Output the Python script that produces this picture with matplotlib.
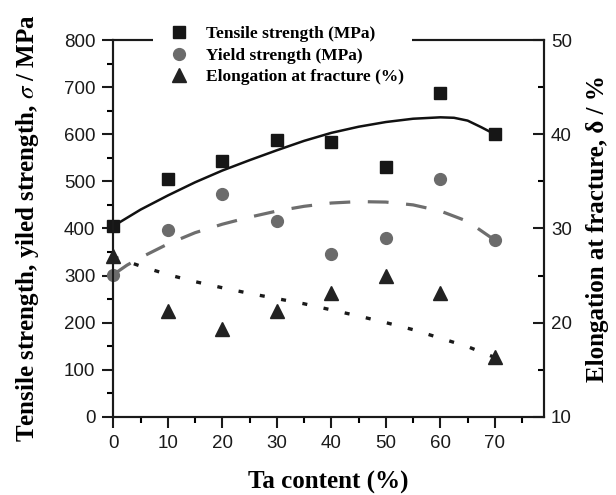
import matplotlib
matplotlib.use("Agg")
import matplotlib.pyplot as plt
from matplotlib.lines import Line2D
from matplotlib.ticker import MultipleLocator

# measured values
ta = [0, 10, 20, 30, 40, 50, 60, 70]
tensile = [405, 506, 544, 588, 583, 530, 687, 600]
yield_s = [301, 396, 473, 415, 346, 380, 504, 375]
elong = [27.1, 21.2, 19.3, 21.2, 23.1, 25.0, 23.1, 16.3]

# trend curves
fit_x = [0, 5, 10, 15, 20, 25, 30, 35, 40, 45, 50, 55, 60, 62.5, 65, 67.5, 70]
tensile_fit = [405, 440, 470, 498, 523, 545, 566, 586, 603, 616, 626, 633, 636, 635, 629, 615, 600]
yfit_x = [0, 2.5, 5, 10, 15, 20, 25, 30, 35, 40, 45, 50, 55, 60, 65, 70]
yield_fit = [302, 322, 338, 367, 391, 409, 424, 437, 447, 454, 457, 456, 450, 437, 415, 375]
efit_x = [0, 5, 10, 15, 20, 25, 30, 35, 40, 45, 50, 55, 60, 65, 70]
elong_fit = [27.0, 26.0, 25.1, 24.35, 23.7, 23.1, 22.55, 22.0, 21.35, 20.7, 20.0, 19.25, 18.35, 17.45, 16.3]

plt.rcParams['mathtext.fontset'] = 'stix'
SERIF = 'Liberation Serif'
SANS = 'Liberation Sans'

fig = plt.figure(figsize=(6.16, 4.95), dpi=100)
ax = fig.add_axes([0.184, 0.158, 0.699, 0.761])
ax2 = ax.twinx()

ax.plot(fit_x, tensile_fit, color='#111111', lw=1.8, zorder=2)
ax.plot(yfit_x, yield_fit, color='#6e6e6e', lw=2.3, ls=(0, (6.5, 5.5)), zorder=2)
ax2.plot(efit_x, elong_fit, color='#1a1a1a', lw=2.4, ls=(0, (1.5, 5)), zorder=2)

ax.plot(ta, tensile, 's', color='#161616', ms=8, clip_on=False, zorder=4)
ax.plot(ta, yield_s, 'o', color='#6b6b6b', ms=8.5, clip_on=False, zorder=4)
ax2.plot(ta, elong, '^', color='#222222', ms=9.5, clip_on=False, zorder=4)

ax.set_xlim(0, 79)
ax.set_ylim(0, 800)
ax2.set_ylim(10, 50)

ax.xaxis.set_major_locator(MultipleLocator(10))
ax.xaxis.set_minor_locator(MultipleLocator(5))
ax.yaxis.set_major_locator(MultipleLocator(100))
ax.yaxis.set_minor_locator(MultipleLocator(50))
ax2.yaxis.set_major_locator(MultipleLocator(10))
ax2.yaxis.set_minor_locator(MultipleLocator(5))
ax.set_xticks([0, 10, 20, 30, 40, 50, 60, 70])

for a in (ax, ax2):
    for s in a.spines.values():
        s.set_linewidth(1.5)
        s.set_color('#1a1a1a')

ax.tick_params(which='major', direction='out', length=8, width=1.5, labelsize=13.5,
               colors='#1a1a1a', pad=5, top=False, right=False)
ax.tick_params(which='minor', direction='out', length=4.5, width=1.5, top=False, right=False)
ax2.tick_params(which='major', direction='in', length=8, width=1.5, labelsize=13.5,
                colors='#1a1a1a', pad=5)
ax2.tick_params(which='minor', direction='in', length=4.5, width=1.5)
for lab in ax.get_xticklabels() + ax.get_yticklabels() + ax2.get_yticklabels():
    lab.set_fontfamily(SANS)

ax.set_xlabel('Ta content (%)', fontfamily=SERIF, fontweight='bold', fontsize=18, labelpad=14)
ax.set_ylabel(r'Tensile strength, yiled strength, $\sigma$ / MPa', fontfamily=SERIF,
              fontweight='bold', fontsize=18, labelpad=16.5)
ax2.set_ylabel('Elongation at fracture, δ / %', fontfamily=SERIF, fontweight='bold',
               fontsize=18, labelpad=10)

handles = [
    Line2D([], [], marker='s', ls='none', color='#161616', ms=8),
    Line2D([], [], marker='o', ls='none', color='#6b6b6b', ms=8.5),
    Line2D([], [], marker='^', ls='none', color='#222222', ms=9.5),
]
labels = ['Tensile strength (MPa)', 'Yield strength (MPa)', 'Elongation at fracture (%)']
leg = ax2.legend(handles, labels, loc='upper left', bbox_to_anchor=(0.071, 1.083),
                 frameon=True, fancybox=False, edgecolor='none', facecolor='white',
                 framealpha=1, labelspacing=0.31, handletextpad=0.55, borderpad=0.5,
                 prop={'family': SERIF, 'weight': 'bold', 'size': 12.5})

fig.savefig('out.png', dpi=100)
